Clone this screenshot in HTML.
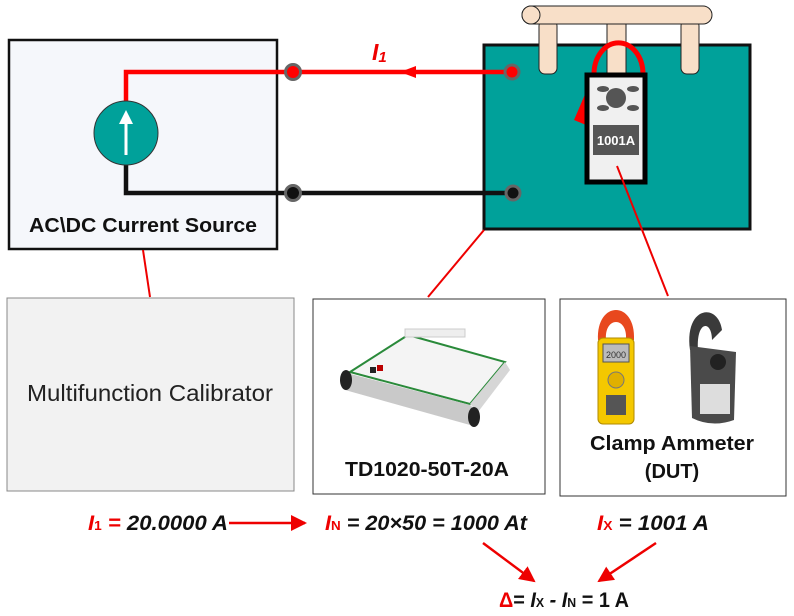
<!DOCTYPE html>
<html><head><meta charset="utf-8"><style>
html,body{margin:0;padding:0;background:#fff;}
svg{display:block;font-family:"Liberation Sans",Arial,sans-serif;}
</style></head><body>
<svg width="794" height="616" viewBox="0 0 794 616" xmlns="http://www.w3.org/2000/svg">
<defs>
<marker id="ah2" markerWidth="16" markerHeight="16" refX="14" refY="8" orient="auto" markerUnits="userSpaceOnUse">
<path d="M0,0 L16,8 L0,16 z" fill="#e00"/></marker>
</defs>
<rect x="9" y="40" width="268" height="209" fill="#f5f7fb" stroke="#111" stroke-width="2.5"/>
<text x="29" y="232" font-size="20" font-weight="bold" fill="#111" textLength="228" lengthAdjust="spacingAndGlyphs">AC\DC Current Source</text>
<rect x="484" y="45" width="266" height="184" fill="#00a19a" stroke="#111" stroke-width="3"/>
<polyline points="126,101 126,72 511,72" fill="none" stroke="#f00" stroke-width="4.5"/>
<polyline points="126,165 126,193 513,193" fill="none" stroke="#111" stroke-width="4.5"/>
<circle cx="126" cy="133" r="32" fill="#00a19a" stroke="#333" stroke-width="1"/>
<line x1="126" y1="155" x2="126" y2="120" stroke="#fff" stroke-width="3"/>
<path d="M119,124 L126,110 L133,124 z" fill="#fff"/>
<circle cx="293" cy="72" r="7.5" fill="#f00" stroke="#666" stroke-width="3"/>
<circle cx="293" cy="193" r="7.5" fill="#111" stroke="#666" stroke-width="3"/>
<circle cx="512" cy="72" r="7" fill="#f00" stroke="#666" stroke-width="3"/>
<circle cx="513" cy="193" r="7" fill="#111" stroke="#666" stroke-width="3"/>
<path d="M400,72 L416,66 L416,78 z" fill="#f00"/>
<text x="372" y="60" font-size="23" font-weight="bold" font-style="italic" fill="#e00">I<tspan font-size="15" dy="2">1</tspan></text>
<rect x="539" y="20" width="18" height="54" rx="6" fill="#f8dfc8" stroke="#222" stroke-width="1"/>
<rect x="607" y="20" width="19" height="60" fill="#f8dfc8" stroke="#222" stroke-width="1"/>
<rect x="681" y="20" width="18" height="54" rx="6" fill="#f8dfc8" stroke="#222" stroke-width="1"/>
<rect x="522" y="6" width="190" height="18" rx="9" fill="#f8dfc8" stroke="#222" stroke-width="1"/>
<ellipse cx="531" cy="15" rx="9" ry="9" fill="#f8dfc8" stroke="#222" stroke-width="1"/>
<path d="M594,74 A22,28 0 0 1 643,74" fill="none" stroke="#f00" stroke-width="5"/>
<path d="M574,120 L586,92 L586,125 z" fill="#f00"/>
<rect x="587" y="75" width="58" height="107" fill="#f0f0f0" stroke="#000" stroke-width="5"/>
<ellipse cx="603" cy="89" rx="6" ry="3" fill="#555"/><ellipse cx="633" cy="89" rx="6" ry="3" fill="#555"/>
<ellipse cx="603" cy="108" rx="6" ry="3" fill="#555"/><ellipse cx="633" cy="108" rx="6" ry="3" fill="#555"/>
<circle cx="616" cy="98" r="10" fill="#555"/>
<rect x="593" y="125" width="46" height="30" fill="#555"/>
<text x="616" y="145" font-size="13" font-weight="bold" fill="#fff" text-anchor="middle">1001A</text>
<line x1="617" y1="166" x2="668" y2="296" stroke="#e00" stroke-width="2"/>
<line x1="484" y1="230" x2="428" y2="297" stroke="#e00" stroke-width="2"/>
<line x1="143" y1="250" x2="150" y2="297" stroke="#e00" stroke-width="2"/>
<rect x="7" y="298" width="287" height="193" fill="#f2f2f2" stroke="#888" stroke-width="1"/>
<text x="27" y="401" font-size="23" fill="#222" textLength="246" lengthAdjust="spacingAndGlyphs">Multifunction Calibrator</text>
<rect x="313" y="299" width="232" height="195" fill="#fff" stroke="#333" stroke-width="1"/>
<text x="345" y="476" font-size="20" font-weight="bold" fill="#111" textLength="164" lengthAdjust="spacingAndGlyphs">TD1020-50T-20A</text>
<path d="M350,372 L408,335 L505,362 L470,404 z" fill="#f4f4f4" stroke="#2a8a3a" stroke-width="2"/>
<path d="M343,372 L470,405 L478,412 L470,425 L345,390 z" fill="#c9c9c9"/>
<path d="M470,404 L505,362 L510,370 L478,412 z" fill="#d6d6d6"/>
<ellipse cx="346" cy="380" rx="6" ry="10" fill="#222"/><ellipse cx="474" cy="417" rx="6" ry="10" fill="#222"/>
<rect x="405" y="329" width="60" height="8" fill="#eee" stroke="#ccc"/>
<rect x="370" y="367" width="6" height="6" fill="#222"/><rect x="377" y="365" width="6" height="6" fill="#b00"/>
<rect x="560" y="299" width="226" height="197" fill="#fff" stroke="#333" stroke-width="1"/>
<text x="590" y="450" font-size="20" font-weight="bold" fill="#111" textLength="164" lengthAdjust="spacingAndGlyphs">Clamp Ammeter</text>
<text x="672" y="478" font-size="20" font-weight="bold" text-anchor="middle" fill="#111">(DUT)</text>
<path d="M598,340 C596,300 636,300 634,340 L626,340 C628,316 604,316 606,340 z" fill="#e8481e"/>
<rect x="598" y="338" width="36" height="86" rx="5" fill="#f4c800" stroke="#b08a00"/>
<rect x="603" y="344" width="26" height="18" fill="#bbb" stroke="#555"/>
<text x="616" y="358" font-size="9" text-anchor="middle" fill="#333">2000</text>
<circle cx="616" cy="380" r="8" fill="#e0b000" stroke="#777"/>
<rect x="606" y="395" width="20" height="20" fill="#555"/>
<path d="M690,350 C684,306 718,302 722,330 L712,340 C712,320 696,320 698,350 z" fill="#3a3a3a"/>
<path d="M690,346 L736,352 L734,420 Q712,428 692,418 z" fill="#4a4a4a"/>
<circle cx="718" cy="362" r="8" fill="#222"/>
<rect x="700" y="384" width="30" height="30" fill="#ddd"/>
<g font-size="21" font-weight="bold" font-style="italic">
<text x="88" y="530" fill="#111" textLength="140" lengthAdjust="spacingAndGlyphs"><tspan fill="#e00">I<tspan font-size="13" font-style="normal">1</tspan> =</tspan> 20.0000 A</text>
<text x="325" y="530" fill="#111" textLength="202" lengthAdjust="spacingAndGlyphs"><tspan fill="#e00">I<tspan font-size="13" font-style="normal">N</tspan></tspan> = 20×50 = 1000 At</text>
<text x="597" y="530" fill="#111" textLength="112" lengthAdjust="spacingAndGlyphs"><tspan fill="#e00">I<tspan font-size="13" font-style="normal">X</tspan></tspan> = 1001 A</text>
<text x="499" y="607" fill="#111" textLength="130" lengthAdjust="spacingAndGlyphs"><tspan fill="#e00" font-style="normal">Δ</tspan><tspan font-style="normal">=</tspan> I<tspan font-size="13" font-style="normal">X</tspan> - I<tspan font-size="13" font-style="normal">N</tspan> <tspan font-style="normal">= 1 A</tspan></text>
</g>
<line x1="229" y1="523" x2="305" y2="523" stroke="#e00" stroke-width="2.5" marker-end="url(#ah2)"/>
<line x1="483" y1="543" x2="534" y2="581" stroke="#e00" stroke-width="2.5" marker-end="url(#ah2)"/>
<line x1="656" y1="543" x2="599" y2="581" stroke="#e00" stroke-width="2.5" marker-end="url(#ah2)"/>
</svg>
</body></html>
